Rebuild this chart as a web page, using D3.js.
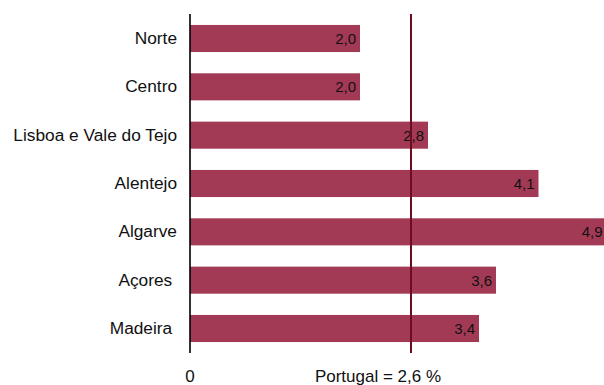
<!DOCTYPE html>
<html>
<head>
<meta charset="utf-8">
<script src="https://cdn.jsdelivr.net/npm/d3@7"></script>
<style>
  html, body { margin: 0; padding: 0; background: #fff; }
  svg { display: block; font-family: Arial, "Liberation Sans", sans-serif; }
  text { white-space: pre; }
</style>
</head>
<body>
<svg id="chart" width="604" height="385"></svg>
<script>
// Regional values (%) and national reference
const regions = ["Norte", "Centro", "Lisboa e Vale do Tejo", "Alentejo", "Algarve", "Açores ", "Madeira "];
const values = [2.0, 2.0, 2.8, 4.1, 4.9, 3.6, 3.4];
const portugalValue = 2.6;
const zeroLabel = "0";
const referenceLabel = "Portugal = 2,6 %";

const svg = d3.select("#chart");
const barColor = "#a33a55";
const refColor = "#6e0b1c";

const x = d3.scaleLinear().domain([0, 5]).range([190, 615]);
const y = d3.scaleBand().domain(regions).range([3.7, 363.3]).padding(0.44);

const fmt = v => d3.format(".1f")(v).replace(".", ",");
const data = regions.map((r, i) => ({ region: r, value: values[i] }));

// Bars
svg.append("g").selectAll("rect")
  .data(data)
  .join("rect")
  .attr("x", x(0))
  .attr("y", d => y(d.region))
  .attr("width", d => x(d.value) - x(0))
  .attr("height", y.bandwidth())
  .attr("fill", barColor);

// Value labels inside bar ends
svg.append("g").selectAll("text")
  .data(data)
  .join("text")
  .attr("x", d => x(d.value) - 4)
  .attr("y", d => y(d.region) + y.bandwidth() / 2)
  .attr("dy", "0.36em")
  .attr("text-anchor", "end")
  .attr("font-size", 15)
  .attr("fill", "#111")
  .text(d => fmt(d.value));

// Category axis
const yAxis = d3.axisLeft(y).tickSize(0).tickPadding(13);
const gy = svg.append("g").attr("transform", `translate(${x(0)},0)`).call(yAxis);
gy.select(".domain").remove();
gy.selectAll("text").attr("font-size", 17.3).attr("fill", "#111")
  .attr("font-family", "Arial, 'Liberation Sans', sans-serif");

svg.append("line")
  .attr("x1", x(0)).attr("x2", x(0))
  .attr("y1", 14).attr("y2", 353)
  .attr("stroke", "#000").attr("stroke-width", 1.6);

// National reference line
svg.append("line")
  .attr("x1", x(portugalValue)).attr("x2", x(portugalValue))
  .attr("y1", 14).attr("y2", 353)
  .attr("stroke", refColor).attr("stroke-width", 2);

// Bottom labels
svg.append("text")
  .attr("x", x(0)).attr("y", 382)
  .attr("text-anchor", "middle").attr("font-size", 17).attr("fill", "#111")
  .text(zeroLabel);

svg.append("text")
  .attr("x", 378).attr("y", 382)
  .attr("text-anchor", "middle").attr("font-size", 17).attr("fill", "#111")
  .text(referenceLabel);
</script>
</body>
</html>
